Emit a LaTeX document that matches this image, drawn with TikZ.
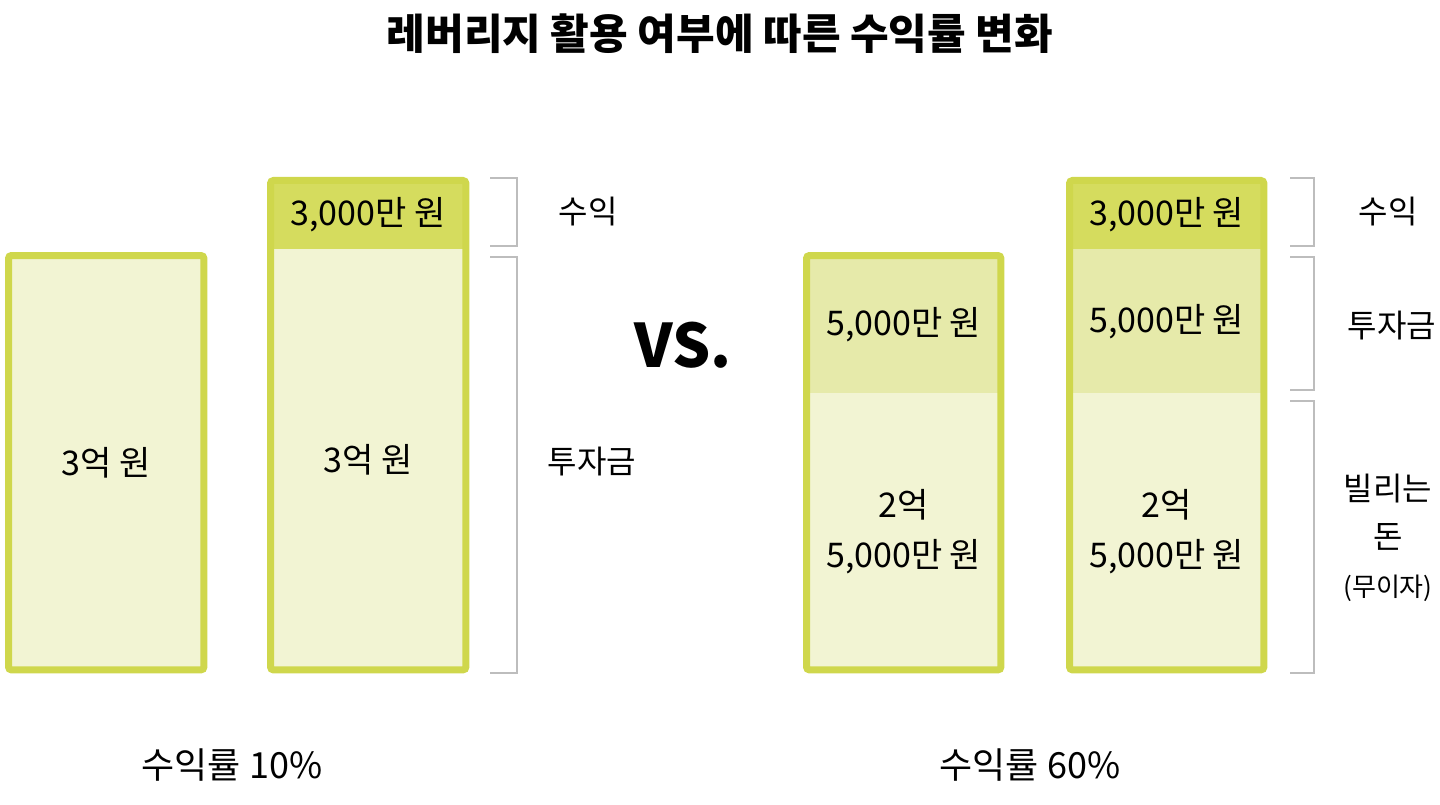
\documentclass[tikz,border=0pt]{standalone}
\usepackage{fontspec}
\setmainfont{Noto Sans CJK KR}
\usepackage{tikz}
\usetikzlibrary{calc}

\definecolor{lime}{HTML}{CFD74C}
\definecolor{darkfill}{HTML}{D5DC5E}
\definecolor{midfill}{HTML}{E6EAAA}
\definecolor{litefill}{HTML}{F2F4D3}
\definecolor{brkgray}{HTML}{BDBDBD}

\tikzset{
 sec/.style={anchor=north west, minimum width=195, inner sep=0, font=\fontsize{34}{50}\selectfont, align=center},
 outline/.style={draw=lime, line width=7, rounded corners=3},
 brk/.style={draw=brkgray, line width=1.6},
 side/.style={font=\fontsize{32}{48}\selectfont, align=center, inner sep=0},
 rate/.style={font=\fontsize{36}{40}\selectfont, inner sep=0}
}

\begin{document}
\begin{tikzpicture}[x=1pt,y=-1pt]
\useasboundingbox (0,0) rectangle (1440,805);
\node[font=\fontsize{42}{44}\selectfont\bfseries] (title) at (720,34) {레버리지 활용 여부에 따른 수익률 변화};

% without leverage
\node[sec, fill=litefill, minimum height=414] (aL) at (8.5,255.5) {3억 원};
\draw[outline] (aL.north west) rectangle (aL.south east);
\node[sec, fill=darkfill, minimum height=68.5] (bT) at (270.5,180.5) {3,000만 원};
\node[sec, fill=litefill, minimum height=420.5] (bL) at (270.5,249) {3억 원};
\draw[outline] (bT.north west) rectangle (bL.south east);

\draw[brk] (490,178) -- (517,178) -- (517,246) -- (490,246);
\draw[brk] (490,257) -- (517,257) -- (517,673) -- (490,673);
\node[side] (profitA) at (588,212) {수익};
\node[side] (investA) at (592,462) {투자금};

\node[font=\fontsize{60}{60}\selectfont\bfseries, inner sep=0] (vs) at (683,345) {VS.};

% with leverage
\node[sec, fill=midfill, minimum height=137.5, minimum width=194] (cM) at (806.5,255.5) {5,000만 원};
\node[sec, fill=litefill, minimum height=276.5, minimum width=194] (cL) at (806.5,393) {2억\\5,000만 원};
\draw[outline] (cM.north west) rectangle (cL.south east);
\node[sec, fill=darkfill, minimum height=68.5, minimum width=194] (dT) at (1069.5,180.5) {3,000만 원};
\node[sec, fill=midfill, minimum height=144, minimum width=194] (dM) at (1069.5,249) {5,000만 원};
\node[sec, fill=litefill, minimum height=276.5, minimum width=194] (dL) at (1069.5,393) {2억\\5,000만 원};
\draw[outline] (dT.north west) rectangle (dL.south east);

\draw[brk] (1290,178) -- (1314,178) -- (1314,246) -- (1290,246);
\draw[brk] (1290,257) -- (1314,257) -- (1314,390) -- (1290,390);
\draw[brk] (1290,401) -- (1314,401) -- (1314,673) -- (1290,673);
\node[side] (profitB) at (1388,212) {수익};
\node[side] (investB) at (1392,326) {투자금};
\node[side] (loanB) at (1388,538) {빌리는\\돈\\{\fontsize{26}{30}\selectfont(무이자)}};

\node[rate] (rateA) at (232,765) {수익률 10\%};
\node[rate] (rateB) at (1030,765) {수익률 60\%};
\end{tikzpicture}
\end{document}
